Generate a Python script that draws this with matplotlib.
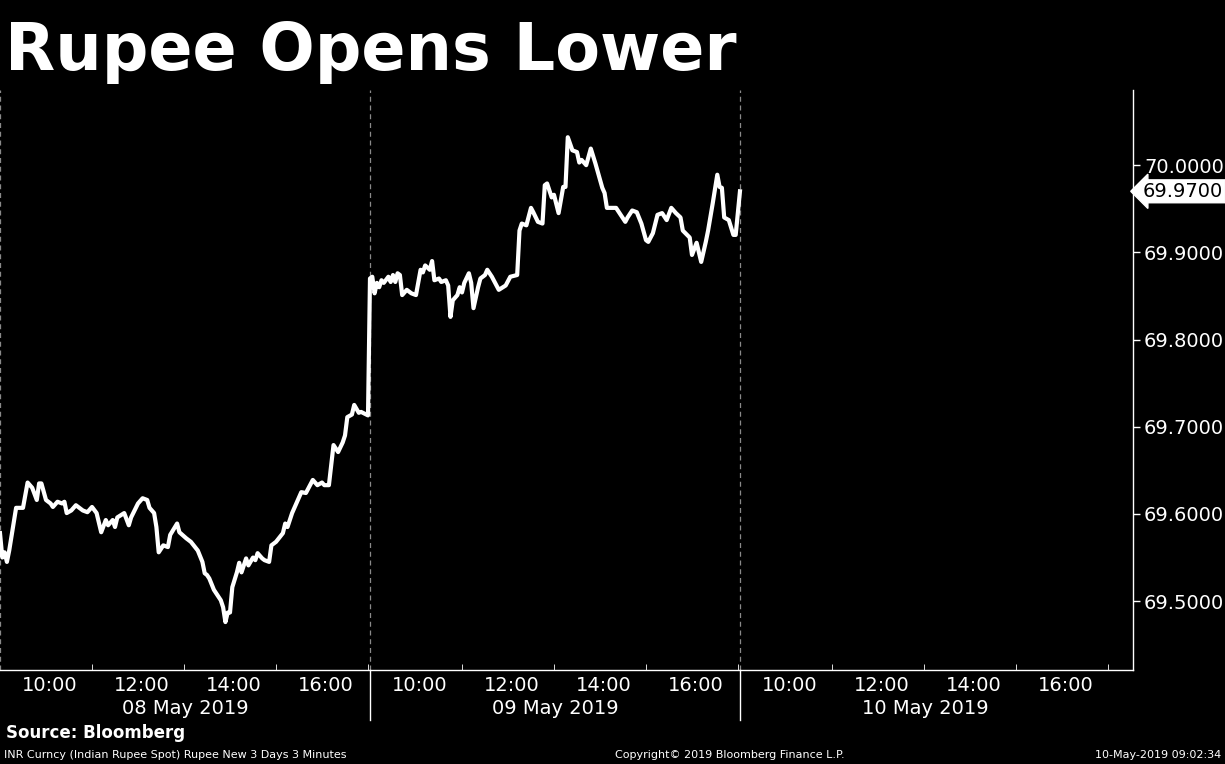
import matplotlib
matplotlib.use('Agg')
import matplotlib.pyplot as plt
from matplotlib.ticker import FormatStrFormatter

plt.rcParams['font.family'] = ['DejaVu Sans']

# INR spot, 3-minute bars, index = bars since 09:00
day_names = ['08 May 2019', '09 May 2019', '10 May 2019']

day1_bar = [0, 1, 2, 3, 4, 7, 10, 12, 13, 14, 16, 17, 18, 20, 22, 23, 25, 27, 28, 29,
            31, 33, 36, 38, 40, 42, 44, 46, 47, 49, 50, 51, 54, 56, 57, 60, 62, 64, 65, 67,
            68, 69, 71, 73, 74, 77, 78, 81, 83, 86, 88, 89, 90, 91, 93, 96, 97, 98, 99, 100,
            101, 103, 104, 105, 107, 108, 110, 111, 112, 114, 115, 117, 118, 120, 123, 124, 125, 127, 128, 130,
            131, 133, 136, 137, 138, 140, 141, 143, 145, 147, 149, 150, 151, 153, 154, 156, 157, 160]
day1_val = [69.578, 69.550, 69.556, 69.545, 69.558, 69.607, 69.607, 69.636, 69.633, 69.630,
            69.616, 69.635, 69.635, 69.616, 69.612, 69.608, 69.614, 69.612, 69.614, 69.601,
            69.604, 69.610, 69.604, 69.602, 69.608, 69.601, 69.579, 69.593, 69.587, 69.593,
            69.585, 69.596, 69.601, 69.587, 69.596, 69.612, 69.618, 69.616, 69.607, 69.601,
            69.585, 69.556, 69.564, 69.562, 69.576, 69.589, 69.579, 69.572, 69.568, 69.558,
            69.545, 69.532, 69.530, 69.526, 69.513, 69.501, 69.493, 69.476, 69.487, 69.487,
            69.516, 69.533, 69.544, 69.533, 69.549, 69.541, 69.550, 69.547, 69.555, 69.549,
            69.547, 69.545, 69.564, 69.568, 69.578, 69.589, 69.585, 69.601, 69.607, 69.619,
            69.625, 69.624, 69.639, 69.636, 69.633, 69.636, 69.633, 69.633, 69.679, 69.671,
            69.682, 69.690, 69.711, 69.714, 69.725, 69.716, 69.717, 69.713]

day2_bar = [0, 1, 2, 3, 4, 5, 6, 8, 9, 10, 11, 12, 13, 14, 16, 18, 20, 22, 23, 24,
            26, 27, 28, 30, 31, 33, 34, 35, 36, 38, 39, 40, 41, 43, 44, 45, 47, 48, 50, 51,
            53, 56, 59, 61, 64, 65, 66, 68, 70, 71, 73, 75, 76, 77, 79, 80, 82, 84, 85, 86,
            88, 90, 91, 92, 94, 96, 98, 101, 102, 103, 107, 109, 111, 112, 114, 116, 118, 120, 121, 123,
            125, 127, 129, 131, 133, 135, 136, 139, 140, 142, 144, 146, 147, 149, 151, 152, 153, 154, 156, 158,
            159]
day2_val = [69.870, 69.872, 69.853, 69.865, 69.860, 69.868, 69.865, 69.872, 69.866, 69.874,
            69.866, 69.876, 69.874, 69.851, 69.857, 69.853, 69.851, 69.880, 69.877, 69.885,
            69.880, 69.890, 69.868, 69.870, 69.866, 69.868, 69.862, 69.826, 69.845, 69.851,
            69.860, 69.854, 69.865, 69.876, 69.865, 69.836, 69.860, 69.870, 69.874, 69.880,
            69.872, 69.857, 69.862, 69.872, 69.874, 69.925, 69.933, 69.931, 69.951, 69.946,
            69.935, 69.933, 69.977, 69.979, 69.963, 69.966, 69.945, 69.975, 69.975, 70.032,
            70.017, 70.015, 70.003, 70.006, 70.000, 70.019, 70.002, 69.974, 69.968, 69.951,
            69.951, 69.943, 69.935, 69.940, 69.948, 69.946, 69.933, 69.914, 69.912, 69.922,
            69.943, 69.945, 69.937, 69.951, 69.945, 69.940, 69.925, 69.917, 69.897, 69.911,
            69.889, 69.912, 69.925, 69.956, 69.989, 69.975, 69.974, 69.940, 69.937, 69.920,
            69.920]

day3_bar = [0]
day3_val = [69.970]
last_price = 69.97

hour_labels = [10, 12, 14, 16]
hour_ticks = [11, 13, 15, 17]
y_ticks = [69.5, 69.6, 69.7, 69.8, 69.9, 70.0]

# each session drawn as 9:00 -> ~17:02 block
day_len = 8.043
start_hour = 9


def pos(day, hour):
    return day * day_len + (hour - start_hour)


xs, ys = [], []
for d, (bars, vals) in enumerate([(day1_bar, day1_val), (day2_bar, day2_val), (day3_bar, day3_val)]):
    for b, v in zip(bars, vals):
        xs.append(pos(d, start_hour + b * 3 / 60.0))
        ys.append(v)

fig = plt.figure(figsize=(12.25, 7.64), dpi=100, facecolor='black')
ax = fig.add_axes([0.0, 0.123, 0.9249, 0.759])
ax.set_facecolor('black')

ax.plot(xs, ys, color='white', lw=3, solid_joinstyle='round', zorder=3)

ax.set_xlim(0, 24.63)
ax.set_ylim(69.421, 70.086)

# day separators
for d in range(3):
    ax.axvline(pos(d, start_hour), color='#8a8a8a', lw=0.9, ls=(0, (4, 3)), zorder=1)
for d in [1, 2]:
    ax.plot([pos(d, start_hour)] * 2, [0, -0.086], color='white', lw=1,
            transform=ax.get_xaxis_transform(), clip_on=False)

for s in ['top', 'left']:
    ax.spines[s].set_visible(False)
for s in ['right', 'bottom']:
    ax.spines[s].set_color('white')
    ax.spines[s].set_linewidth(1)

# x axis
major = [pos(d, h) + 0.08 for d in range(3) for h in hour_labels]
minor = [pos(d, h) for d in range(3) for h in hour_ticks]
ax.set_xticks(major)
ax.set_xticklabels(['%02d:00' % h for d in range(3) for h in hour_labels])
ax.set_xticks(minor, minor=True)
ax.tick_params(axis='x', which='major', length=0, pad=4, labelsize=14, labelcolor='white')
ax.tick_params(axis='x', which='minor', direction='in', length=4, color='white')

for d in range(3):
    ax.text(pos(d, start_hour) + day_len / 2, -0.066, day_names[d], color='white', fontsize=14,
            ha='center', va='center', transform=ax.get_xaxis_transform())

# y axis on the right
ax.yaxis.tick_right()
ax.set_yticks(y_ticks)
ax.yaxis.set_major_formatter(FormatStrFormatter('%.4f'))
ax.tick_params(axis='y', which='both', direction='out', length=5, width=1, color='white',
               labelsize=14, labelcolor='white', pad=3)

ax.annotate('%.4f' % last_price, xy=(1.0, last_price), xycoords=('axes fraction', 'data'),
            xytext=(7, 0), textcoords='offset points', ha='left', va='center',
            fontsize=14, color='black',
            bbox=dict(boxstyle='larrow,pad=0.1', fc='white', ec='white'))

fig.text(0.004, 0.932, 'Rupee Opens Lower', color='white', fontsize=47, weight='bold',
         ha='left', va='center')
fig.text(0.005, 0.040, 'Source: Bloomberg', color='white', fontsize=12, weight='bold',
         ha='left', va='center')
fig.text(0.003, 0.012, 'INR Curncy (Indian Rupee Spot) Rupee New 3 Days 3 Minutes', color='white',
         fontsize=8, ha='left', va='center')
fig.text(0.596, 0.012, 'Copyright\u00a9 2019 Bloomberg Finance L.P.', color='white',
         fontsize=8, ha='center', va='center')
fig.text(0.997, 0.012, '10-May-2019 09:02:34', color='white', fontsize=8, ha='right', va='center')

fig.savefig('out.png', dpi=100, facecolor='black')
